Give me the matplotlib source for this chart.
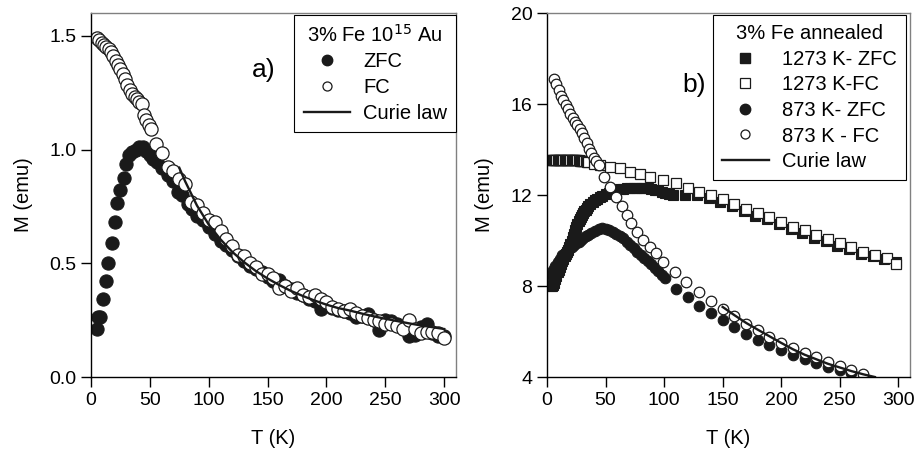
import matplotlib
matplotlib.use("Agg")
import matplotlib.pyplot as plt
from matplotlib.lines import Line2D

plt.rcParams["font.family"] = ["Liberation Sans", "DejaVu Sans"]
plt.rcParams["font.size"] = 14

# ---- panel a) 3% Fe 10^15 Au ----
a_fc_T = [5, 7, 9, 11, 13, 15, 17, 19, 21, 23, 25, 27, 29, 31, 33, 35, 37, 39, 41, 43,
          45, 47, 49, 51, 55, 60, 65, 70, 75, 80, 85, 90, 95, 100, 105, 110, 115, 120,
          125, 130, 135, 140, 145, 150, 155, 160, 165, 170, 175, 180, 185, 190, 195,
          200, 205, 210, 215, 220, 225, 230, 235, 240, 245, 250, 255, 260, 265, 270,
          275, 280, 285, 290, 295, 300]
a_fc_M = [1.49, 1.48, 1.47, 1.46, 1.45, 1.44, 1.43, 1.41, 1.39, 1.37, 1.355, 1.33, 1.31,
          1.285, 1.26, 1.245, 1.23, 1.22, 1.21, 1.20, 1.15, 1.13, 1.11, 1.09, 1.025,
          0.985, 0.925, 0.905, 0.87, 0.85, 0.77, 0.755, 0.72, 0.69, 0.68, 0.64, 0.605,
          0.575, 0.535, 0.53, 0.50, 0.485, 0.455, 0.455, 0.435, 0.39, 0.40, 0.38, 0.39,
          0.36, 0.35, 0.36, 0.345, 0.33, 0.31, 0.30, 0.29, 0.30, 0.28, 0.27, 0.26, 0.25,
          0.245, 0.235, 0.235, 0.225, 0.21, 0.25, 0.21, 0.195, 0.20, 0.20, 0.195, 0.17]

a_zfc_T = [5, 6, 8, 10, 12.5, 14.5, 18, 20.5, 22.5, 25, 28, 30, 32, 35, 38, 41, 44, 47,
           50, 53, 56, 60, 65, 70, 74, 77, 82, 86, 90, 95, 100, 105, 110, 115, 120, 125,
           130, 135, 140, 145, 150, 155, 160, 165, 170, 175, 180, 185, 190, 195, 200,
           205, 210, 215, 220, 225, 230, 235, 240, 245, 250, 255, 260, 265, 270, 275,
           280, 285, 290, 295, 300]
a_zfc_M = [0.21, 0.265, 0.265, 0.345, 0.42, 0.50, 0.59, 0.68, 0.765, 0.82, 0.875, 0.935,
           0.975, 0.99, 1.0, 1.01, 1.01, 0.995, 0.975, 0.96, 0.945, 0.92, 0.89, 0.86,
           0.815, 0.80, 0.76, 0.74, 0.71, 0.69, 0.66, 0.63, 0.60, 0.58, 0.56, 0.53, 0.51,
           0.49, 0.475, 0.46, 0.44, 0.42, 0.425, 0.40, 0.385, 0.37, 0.36, 0.345, 0.335,
           0.30, 0.315, 0.305, 0.295, 0.29, 0.28, 0.265, 0.27, 0.275, 0.25, 0.205, 0.25,
           0.245, 0.235, 0.225, 0.18, 0.185, 0.22, 0.235, 0.195, 0.18, 0.18]

a_curie_T = [75, 80, 90, 100, 110, 120, 130, 140, 150, 160, 170, 180, 190, 200, 210,
             220, 230, 240, 250, 260, 270, 280, 290, 300]
a_curie_M = [0.92, 0.86, 0.754, 0.67, 0.605, 0.55, 0.505, 0.466, 0.433, 0.404, 0.378,
             0.356, 0.336, 0.318, 0.303, 0.292, 0.279, 0.267, 0.256, 0.246, 0.236,
             0.227, 0.219, 0.211]

# ---- panel b) 3% Fe annealed ----
b_1273fc_T = [3, 4, 5, 6, 7, 8, 9, 10, 11, 12, 13, 14, 15, 16, 17, 18, 19, 20, 21, 22,
              23, 24, 25, 26, 27, 28, 29, 30, 31, 32, 33, 34, 35, 40, 45, 54, 62, 71, 79,
              88, 99, 110, 120, 130, 140, 150, 160, 170, 180, 190, 200, 210, 220, 230,
              240, 250, 260, 270, 280, 290, 298]
b_1273fc_M = [13.55, 13.55, 13.55, 13.55, 13.55, 13.55, 13.55, 13.55, 13.55, 13.55,
              13.55, 13.55, 13.55, 13.54, 13.54, 13.54, 13.54, 13.54, 13.53, 13.53,
              13.53, 13.53, 13.52, 13.52, 13.52, 13.51, 13.51, 13.5, 13.5, 13.49, 13.48,
              13.47, 13.46, 13.38, 13.3, 13.24, 13.17, 13.02, 12.91, 12.8, 12.66, 12.51,
              12.3, 12.15, 12.02, 11.82, 11.6, 11.4, 11.2, 11.05, 10.83, 10.6, 10.46,
              10.24, 10.07, 9.88, 9.73, 9.51, 9.36, 9.22, 8.97]

b_1273zfc_T = [3, 4, 5, 6, 7, 8, 9, 10, 11, 12, 13, 14, 15, 16, 17, 18, 19, 20, 21, 22,
               23, 24, 25, 26, 27, 28, 29, 30, 31, 32, 33, 34, 35, 37, 39, 41, 43, 45,
               47, 50, 53, 56, 59, 62, 65, 68, 71, 74, 77, 80, 83, 86, 89, 92, 95, 98,
               101, 104, 108, 118, 128, 138, 148, 158, 168, 178, 188, 198, 208, 218, 228,
               238, 248, 258, 268, 278, 288, 298]
b_1273zfc_M = [8.0, 8.0, 8.05, 8.15, 8.3, 8.45, 8.6, 8.72, 8.85, 8.98, 9.1, 9.2, 9.3,
               9.4, 9.5, 9.6, 9.7, 9.85, 10.0, 10.15, 10.3, 10.45, 10.6, 10.72, 10.85,
               10.95, 11.05, 11.12, 11.2, 11.28, 11.35, 11.42, 11.5, 11.6, 11.68, 11.76,
               11.84, 11.9, 11.95, 12.03, 12.1, 12.16, 12.21, 12.25, 12.28, 12.3, 12.32,
               12.33, 12.33, 12.33, 12.32, 12.3, 12.27, 12.24, 12.2, 12.15, 12.1, 12.05,
               12.0, 12.0, 11.98, 11.88, 11.7, 11.5, 11.3, 11.1, 10.93, 10.72, 10.5,
               10.35, 10.12, 9.96, 9.78, 9.63, 9.42, 9.3, 9.2, 9.05]

b_873zfc_T = [3, 5, 7, 9, 11, 13, 15, 17, 19, 21, 23, 25, 27, 29, 31, 33, 35, 38, 41, 44,
              47, 50, 53, 56, 59, 62, 65, 68, 71, 74, 77, 80, 83, 86, 89, 92, 95, 98,
              101, 110, 120, 130, 140, 150, 160, 170, 180, 190, 200, 210, 220, 230, 240,
              250, 260]
b_873zfc_M = [8.5, 8.7, 8.9, 9.05, 9.2, 9.35, 9.45, 9.55, 9.65, 9.72, 9.8, 9.88, 9.95,
              10.02, 10.1, 10.18, 10.25, 10.35, 10.43, 10.5, 10.53, 10.52, 10.47, 10.38,
              10.3, 10.2, 10.1, 9.95, 9.8, 9.65, 9.5, 9.38, 9.25, 9.1, 8.95, 8.8, 8.65,
              8.5, 8.35, 7.85, 7.53, 7.12, 6.83, 6.5, 6.18, 5.89, 5.63, 5.41, 5.19, 4.97,
              4.78, 4.6, 4.45, 4.3, 4.17]

b_873fc_T = [6, 8, 10, 12, 14, 16, 18, 20, 22, 24, 26, 28, 30, 32, 34, 36, 38, 40, 42,
             44, 49, 54, 59, 64, 68, 72, 77, 82, 88, 93, 99, 109, 119, 130, 140, 150,
             160, 170, 180, 190, 200, 210, 220, 230, 240, 250, 260, 270]
b_873fc_M = [17.12, 16.88, 16.6, 16.36, 16.17, 15.96, 15.77, 15.58, 15.4, 15.23, 15.07,
             14.92, 14.74, 14.5, 14.27, 14.04, 13.83, 13.64, 13.48, 13.32, 12.8, 12.36,
             11.93, 11.52, 11.12, 10.76, 10.39, 10.02, 9.73, 9.44, 9.07, 8.63, 8.19,
             7.75, 7.35, 6.99, 6.68, 6.33, 6.07, 5.77, 5.48, 5.26, 5.04, 4.89, 4.67,
             4.48, 4.31, 4.13]

b_curie_T = [150, 160, 170, 180, 190, 200, 210, 220, 230, 240, 250, 260, 270, 280]
b_curie_M = [7.08, 6.72, 6.38, 6.08, 5.79, 5.5, 5.22, 4.98, 4.78, 4.58, 4.42, 4.26,
             4.12, 4.0]

INK = "#1a1a1a"


def style_axes(ax):
    for side in ("top", "right"):
        ax.spines[side].set_color("#808080")
    for side in ("left", "bottom"):
        ax.spines[side].set_color("black")
    for s in ax.spines.values():
        s.set_linewidth(1.0)
    ax.tick_params(direction="out", length=7, width=1, labelsize=14,
                   top=False, right=False)
    ax.set_xlim(0, 310)
    ax.set_xticks([0, 50, 100, 150, 200, 250, 300])
    ax.set_xlabel("T (K)", fontsize=14.5, labelpad=15)
    ax.set_ylabel("M (emu)", fontsize=14.5, labelpad=12)


def make_legend(ax, handles, labels, title, anchor):
    leg = ax.legend(handles, labels, title=title, loc="upper right",
                    bbox_to_anchor=anchor, fontsize=14.5, title_fontsize=14.5,
                    frameon=True, fancybox=False, framealpha=1, edgecolor="black",
                    handlelength=2.3, handletextpad=0.65, labelspacing=0.33,
                    borderpad=0.45, borderaxespad=0)
    leg.get_frame().set_linewidth(0.8)
    return leg


fig = plt.figure(figsize=(9.17, 4.59), dpi=100)
ax1 = fig.add_axes([0.0992, 0.1786, 0.3981, 0.793])
ax2 = fig.add_axes([0.5965, 0.1786, 0.3959, 0.793])

# panel a
ax1.plot(a_zfc_T, a_zfc_M, "o", ms=9.5, mfc=INK, mec=INK, mew=0.8)
ax1.plot(a_fc_T, a_fc_M, "o", ms=9.5, mfc="white", mec=INK, mew=0.9)
ax1.plot(a_curie_T, a_curie_M, "-", color=INK, lw=1.7)
ax1.set_ylim(0, 1.6)
ax1.set_yticks([0.0, 0.5, 1.0, 1.5])
ax1.set_yticklabels(["0.0", "0.5", "1.0", "1.5"])
style_axes(ax1)
ax1.text(0.474, 0.843, "a)", transform=ax1.transAxes, fontsize=19,
         ha="center", va="center")

h_a = [
    Line2D([], [], ls="none", marker="o", ms=7.5, mfc=INK, mec=INK),
    Line2D([], [], ls="none", marker="o", ms=6.5, mfc="white", mec=INK, mew=0.9),
    Line2D([], [], color=INK, lw=1.7),
]
make_legend(ax1, h_a, ["ZFC", "FC", "Curie law"], "3% Fe 10$^{15}$ Au", (1.0, 0.995))

# panel b
ax2.plot(b_1273zfc_T, b_1273zfc_M, "s", ms=6.8, mfc=INK, mec=INK, mew=0.8)
ax2.plot(b_873zfc_T, b_873zfc_M, "o", ms=7.6, mfc=INK, mec=INK, mew=0.8)
ax2.plot(b_1273fc_T, b_1273fc_M, "s", ms=6.8, mfc="white", mec=INK, mew=0.9)
ax2.plot(b_873fc_T, b_873fc_M, "o", ms=7.6, mfc="white", mec=INK, mew=0.9)
ax2.plot(b_curie_T, b_curie_M, "-", color=INK, lw=1.7)
ax2.set_ylim(4, 20)
ax2.set_yticks([4, 8, 12, 16, 20])
style_axes(ax2)
ax2.text(0.405, 0.802, "b)", transform=ax2.transAxes, fontsize=19,
         ha="center", va="center")

h_b = [
    Line2D([], [], ls="none", marker="s", ms=6.5, mfc=INK, mec=INK),
    Line2D([], [], ls="none", marker="s", ms=6.5, mfc="white", mec=INK, mew=0.9),
    Line2D([], [], ls="none", marker="o", ms=7.5, mfc=INK, mec=INK),
    Line2D([], [], ls="none", marker="o", ms=6.5, mfc="white", mec=INK, mew=0.9),
    Line2D([], [], color=INK, lw=1.7),
]
make_legend(ax2, h_b, ["1273 K- ZFC", "1273 K-FC", "873 K- ZFC", "873 K - FC",
                       "Curie law"], "3% Fe annealed", (0.988, 0.995))

fig.savefig("out.png", dpi=100)
